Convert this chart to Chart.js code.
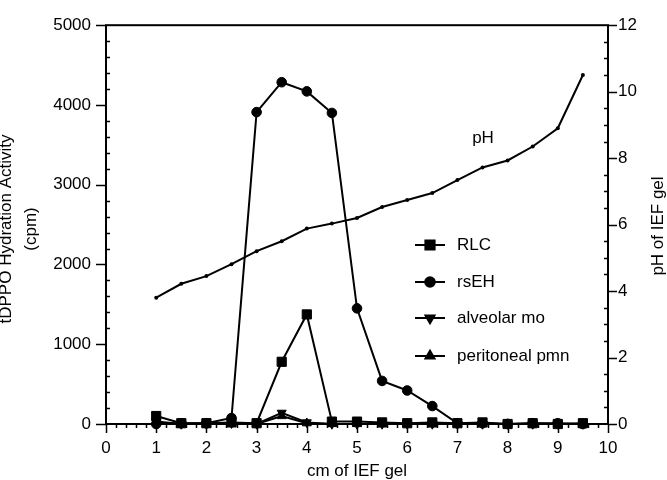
<!DOCTYPE html>
<html><head><meta charset="utf-8">
<script src="https://cdn.jsdelivr.net/npm/chart.js@4.4.1/dist/chart.umd.min.js"></script>
<style>html,body{margin:0;padding:0;background:#fff;}#wrap{width:667px;height:480px;}</style>
</head><body><div id="wrap"><canvas id="c" width="667" height="480"></canvas></div>
<script>
// ---- data ----
const positions = [1, 1.5, 2, 2.5, 3, 3.5, 4, 4.5, 5, 5.5, 6, 6.5, 7, 7.5, 8, 8.5, 9, 9.5];
const rlc        = [100, 10, 10, 20, 10, 780, 1374, 30, 30, 20, 10, 20, 10, 20, 0, 10, 0, 10];
const rsEH       = [0, 10, 10, 75, 3910, 4285, 4170, 3900, 1450, 540, 420, 225, 10, 10, 0, 10, 10, 0];
const alveolarMo = [30, 0, 0, 10, 0, 140, 20, 0, 0, 0, 0, 0, 0, 0, 0, 0, 0, 0];
const peritonealPmn = [20, 0, 0, 10, 0, 100, 10, 0, 0, 0, 0, 0, 0, 0, 0, 0, 0, 0];
const pH         = [3.8, 4.22, 4.45, 4.81, 5.2, 5.5, 5.88, 6.03, 6.2, 6.53, 6.74, 6.95, 7.34, 7.72, 7.93, 8.35, 8.9, 10.5];
const xTickValues  = [0, 1, 2, 3, 4, 5, 6, 7, 8, 9, 10];
const yTickValues  = [0, 1000, 2000, 3000, 4000, 5000];
const y2TickValues = [0, 2, 4, 6, 8, 10, 12];
const seriesNames = ['RLC', 'rsEH', 'alveolar mo', 'peritoneal pmn'];

const FONT_FAMILY = '"Liberation Sans", Arial, Helvetica, sans-serif';
const FONT = '17px ' + FONT_FAMILY;

function pts(arr){ return positions.map((p,i)=>({x:p, y:arr[i]})); }

const markerDefs = [
  {style:'rect', radius:6.5, rotation:0},
  {style:'circle', radius:4.8, rotation:0},
  {style:'triangle', radius:5.2, rotation:180},
  {style:'triangle', radius:5.2, rotation:0}
];
const seriesData = [rlc, rsEH, alveolarMo, peritonealPmn];

const datasets = seriesData.map((arr, i) => ({
  label: seriesNames[i],
  data: pts(arr),
  yAxisID: 'y',
  borderColor: '#000',
  backgroundColor: '#000',
  borderWidth: 2,
  pointStyle: markerDefs[i].style,
  pointRadius: markerDefs[i].radius,
  pointRotation: markerDefs[i].rotation,
  pointBorderWidth: 1,
  pointBackgroundColor: '#000',
  pointBorderColor: '#000',
  tension: 0,
  clip: false
}));
datasets.push({
  label: 'pH',
  data: pts(pH),
  yAxisID: 'y2',
  borderColor: '#000',
  backgroundColor: '#000',
  borderWidth: 2,
  pointStyle: 'circle',
  pointRadius: 2,
  pointBorderWidth: 0,
  pointBackgroundColor: '#000',
  tension: 0,
  clip: false
});

const framePlugin = {
  id: 'frame',
  beforeDatasetsDraw(chart){
    const {ctx, chartArea:a, scales} = chart;
    const x = scales.x, y = scales.y, y2 = scales.y2;
    ctx.save();
    ctx.strokeStyle = '#000';
    ctx.lineWidth = 2;
    ctx.strokeRect(a.left, a.top, a.right - a.left, a.bottom - a.top);
    ctx.lineWidth = 1.5;
    ctx.beginPath();
    for (let i = 0; i <= 50; i++) {
      const v = i * 0.2;
      const px = Math.round(x.getPixelForValue(v)) + 0.5;
      const len = (i % 5 === 0) ? 9 : 4;
      ctx.moveTo(px, a.bottom); ctx.lineTo(px, a.bottom + len);
    }
    for (let i = 0; i <= 25; i++) {
      const v = i * 200;
      const py = Math.round(y.getPixelForValue(v)) + 0.5;
      if (i % 5 === 0) { ctx.moveTo(a.left, py); ctx.lineTo(a.left - 10, py); }
      else { ctx.moveTo(a.left, py); ctx.lineTo(a.left + 4, py); }
    }
    for (let i = 0; i <= 24; i++) {
      const v = i * 0.5;
      const py = Math.round(y2.getPixelForValue(v)) + 0.5;
      if (i % 4 === 0) { ctx.moveTo(a.right, py); ctx.lineTo(a.right + 9, py); }
      else { ctx.moveTo(a.right, py); ctx.lineTo(a.right - 4, py); }
    }
    ctx.stroke();
    ctx.restore();
  },
  afterDraw(chart){
    const {ctx, chartArea:a} = chart;
    ctx.save();
    ctx.fillStyle = '#000';
    ctx.font = FONT;
    ctx.textAlign = 'center'; ctx.textBaseline = 'alphabetic';
    ctx.fillText('cm of IEF gel', (a.left + a.right) / 2, 476);
    ctx.save();
    ctx.translate(11, 229); ctx.rotate(-Math.PI / 2);
    ctx.fillText('tDPPO Hydration Activity', 0, 0);
    ctx.restore();
    ctx.save();
    ctx.translate(36, 229); ctx.rotate(-Math.PI / 2);
    ctx.fillText('(cpm)', 0, 0);
    ctx.restore();
    ctx.save();
    ctx.translate(663, 226); ctx.rotate(-Math.PI / 2);
    ctx.fillText('pH of IEF gel', 0, 0);
    ctx.restore();
    ctx.textBaseline = 'middle';
    ctx.fillText('pH', 483, 138);
    const legY = [245, 282, 318, 356];
    ctx.textAlign = 'left';
    for (let i = 0; i < 4; i++) {
      const ds = chart.data.datasets[i];
      ctx.strokeStyle = '#000'; ctx.lineWidth = 2;
      ctx.beginPath(); ctx.moveTo(415, legY[i]); ctx.lineTo(445, legY[i]); ctx.stroke();
      Chart.helpers.drawPoint(ctx, {
        pointStyle: ds.pointStyle, radius: ds.pointRadius, rotation: ds.pointRotation, borderWidth: 1
      }, 430, legY[i]);
      ctx.fillStyle = '#000';
      ctx.fill();
      ctx.fillText(ds.label, 457, legY[i]);
    }
    ctx.restore();
  }
};

const plainLabel = v => String(v);

new Chart(document.getElementById('c'), {
  type: 'line',
  data: { datasets },
  options: {
    responsive: false,
    animation: false,
    devicePixelRatio: 1,
    layout: { padding: { top: 19, left: 0, right: 0, bottom: 0 } },
    plugins: { legend: { display: false }, tooltip: { enabled: false } },
    scales: {
      x: {
        type: 'linear', min: 0, max: 10,
        afterBuildTicks: s => { s.ticks = xTickValues.map(v => ({value: v})); },
        afterFit: s => { s.height = 56; },
        grid: { display: false, drawTicks: false },
        border: { display: false },
        ticks: { padding: 14, color: '#000', font: { family: FONT_FAMILY, size: 17 }, maxRotation: 0, autoSkip: false, callback: plainLabel }
      },
      y: {
        type: 'linear', position: 'left', min: 0, max: 5000,
        afterBuildTicks: s => { s.ticks = yTickValues.map(v => ({value: v})); },
        afterFit: s => { s.width = 106; },
        grid: { display: false, drawTicks: false },
        border: { display: false },
        ticks: { padding: 15, color: '#000', font: { family: FONT_FAMILY, size: 17 }, autoSkip: false, callback: plainLabel }
      },
      y2: {
        type: 'linear', position: 'right', min: 0, max: 12,
        afterBuildTicks: s => { s.ticks = y2TickValues.map(v => ({value: v})); },
        afterFit: s => { s.width = 59; },
        grid: { display: false, drawTicks: false },
        border: { display: false },
        ticks: { padding: 10, color: '#000', font: { family: FONT_FAMILY, size: 17 }, autoSkip: false, callback: plainLabel }
      }
    }
  },
  plugins: [framePlugin]
});
</script>
</body></html>
